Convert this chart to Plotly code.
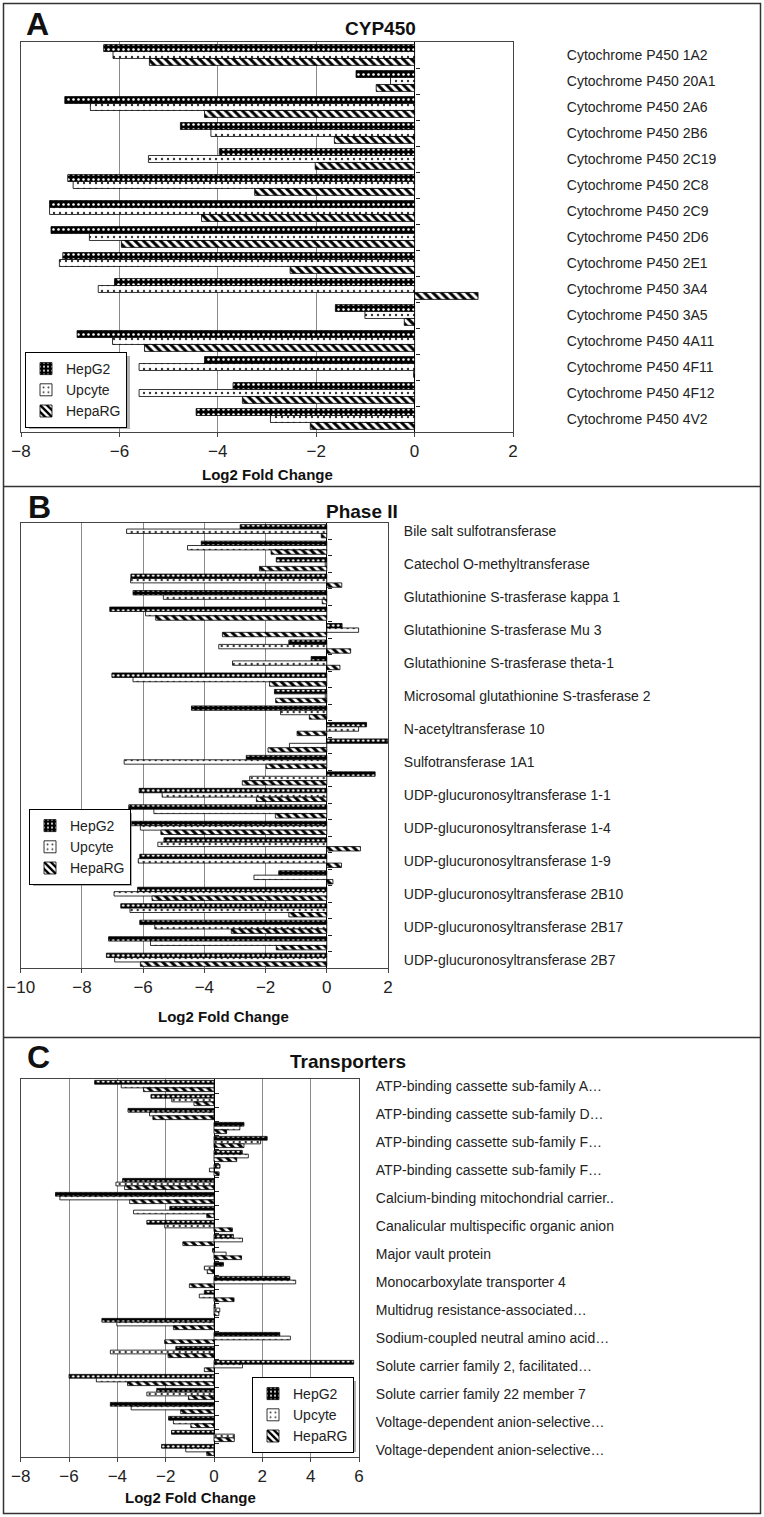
import plotly.graph_objects as go

W, H = 764, 1517
FONT = "Liberation Sans, Arial, sans-serif"

series_names = ["HepG2", "Upcyte", "HepaRG"]

# ---------------- Panel A: CYP450 ----------------
labels_A = ["Cytochrome P450 1A2", "Cytochrome P450 20A1", "Cytochrome P450 2A6",
            "Cytochrome P450 2B6", "Cytochrome P450 2C19", "Cytochrome P450 2C8",
            "Cytochrome P450 2C9", "Cytochrome P450 2D6", "Cytochrome P450 2E1",
            "Cytochrome P450 3A4", "Cytochrome P450 3A5", "Cytochrome P450 4A11",
            "Cytochrome P450 4F11", "Cytochrome P450 4F12", "Cytochrome P450 4V2"]
hepg2_A = [-6.32, -1.19, -7.11, -4.76, -3.97, -7.05, -7.42, -7.39, -7.15, -6.10,
           -1.61, -6.86, -4.27, -3.69, -4.44]
upcyte_A = [-6.13, -0.49, -6.59, -4.14, -5.41, -6.94, -7.42, -6.61, -7.22, -6.43,
            -1.01, -6.14, -5.60, -5.60, -2.93]
heparg_A = [-5.39, -0.78, -4.27, -1.63, -2.02, -3.25, -4.33, -5.96, -2.53, 1.29,
            -0.21, -5.49, -0.02, -3.50, -2.12]

# ---------------- Panel B: Phase II (27 genes, every other labelled) ----------------
labels_B = ["Bile salt sulfotransferase", "Catechol O-methyltransferase",
            "Glutathionine S-trasferase kappa 1", "Glutathionine S-trasferase Mu 3",
            "Glutathionine S-trasferase theta-1", "Microsomal glutathionine S-trasferase 2",
            "N-acetyltransferase 10", "Sulfotransferase 1A1",
            "UDP-glucuronosyltransferase 1-1", "UDP-glucuronosyltransferase 1-4",
            "UDP-glucuronosyltransferase 1-9", "UDP-glucuronosyltransferase 2B10",
            "UDP-glucuronosyltransferase 2B17", "UDP-glucuronosyltransferase 2B7"]
hepg2_B = [-2.83, -4.10, -1.65, -6.40, -6.33, -7.09, 0.50, -1.24, -0.51, -7.02,
           -1.71, -4.42, 1.30, 1.99, -2.63, 1.58, -6.13, -6.47, -6.54, -5.32,
           -6.11, -1.57, -6.18, -6.73, -6.11, -7.13, -7.20]
upcyte_B = [-6.54, -4.55, -0.05, -6.41, -5.34, -5.92, 1.04, -3.53, -3.08, -6.33,
            -0.05, -1.51, 1.04, -1.22, -6.62, -2.52, -5.38, -5.65, -6.09, -5.52,
            -6.16, -2.38, -6.95, -6.43, -5.62, -5.76, -6.93]
heparg_B = [-0.18, -1.82, -2.20, 0.49, -0.15, -5.59, -3.41, 0.78, 0.43, -1.87,
            -1.67, -0.57, -0.97, -1.92, -1.98, -2.76, -2.30, -1.68, -5.42, 1.10,
            0.48, 0.20, -5.71, -1.24, -3.12, -1.65, -6.09]

# ---------------- Panel C: Transporters (27 genes, every other labelled) ----------------
labels_C = ["ATP-binding cassette sub-family A…", "ATP-binding cassette sub-family D…",
            "ATP-binding cassette sub-family F…", "ATP-binding cassette sub-family F…",
            "Calcium-binding mitochondrial carrier..", "Canalicular multispecific organic anion",
            "Major vault protein", "Monocarboxylate transporter 4",
            "Multidrug resistance-associated…", "Sodium-coupled neutral amino acid…",
            "Solute carrier family 2, facilitated…", "Solute carrier family 22 member 7",
            "Voltage-dependent anion-selective…", "Voltage-dependent anion-selective…"]
hepg2_C = [-4.94, -2.61, -3.56, 1.24, 2.20, 1.17, 0.25, -3.78, -6.56, -1.83,
           -2.78, 0.80, -0.06, 0.39, 3.14, -0.40, 0.05, -4.64, 2.72, -1.58,
           5.78, -6.00, -2.37, -4.29, -1.88, -1.76, -2.17]
upcyte_C = [-3.84, -1.75, -2.67, 1.07, 1.93, 1.42, -0.19, -4.06, -6.38, -3.33,
            -2.04, 1.18, 0.50, -0.40, 3.38, -0.61, 0.24, -4.02, 3.16, -4.29,
            1.18, -4.87, -2.78, -3.43, -1.68, 0.84, -1.17]
heparg_C = [-2.92, -0.83, -2.53, 0.52, 1.24, 0.94, 0.21, -3.70, -3.49, -0.30,
            0.76, -1.29, 1.14, -0.28, -1.02, 0.83, 0.20, -1.68, -2.04, -1.90,
            -0.40, -3.58, -1.06, -1.38, -0.96, 0.84, -0.30]


def px(x):
    return x / W


def py(y):
    return 1 - y / H


patterns = [
    dict(shape=".", bgcolor="black", fgcolor="white", size=5, solidity=0.2, fillmode="replace"),
    dict(shape=".", bgcolor="white", fgcolor="#333333", size=6, solidity=0.12, fillmode="replace"),
    dict(shape="\\", bgcolor="white", fgcolor="black", size=6, solidity=0.5, fillmode="replace"),
]

panels = [
    dict(data=[hepg2_A, upcyte_A, heparg_A], labels=labels_A, step=1, xr=[-8, 2],
         box=(21, 513, 42, 432), standoff=50, leg=(25, 352), legsize=(101, 73),
         title="CYP450", tpos=(380, 29), letter="A", lpos=(24, 24), xt=(267, 474)),
    dict(data=[hepg2_B, upcyte_B, heparg_B], labels=labels_B, step=2, xr=[-10, 2],
         box=(20.7, 388, 523, 968), standoff=12, leg=(29, 809), legsize=(99, 73),
         title="Phase II", tpos=(362, 512), letter="B", lpos=(26, 507), xt=(223, 1016)),
    dict(data=[hepg2_C, upcyte_C, heparg_C], labels=labels_C, step=2, xr=[-8, 6],
         box=(20.7, 359, 1079, 1457), standoff=13, leg=(252, 1377), legsize=(100, 71),
         title="Transporters", tpos=(348, 1061), letter="C", lpos=(25, 1057), xt=(190, 1497)),
]

fig = go.Figure()
layout = dict(
    template="none",
    width=W, height=H, margin=dict(l=0, r=0, t=0, b=0, pad=0, autoexpand=False),
    paper_bgcolor="white", plot_bgcolor="white",
    barmode="group", bargap=0.2, bargroupgap=0.0,
    font=dict(family=FONT, color="#222222"),
)
shapes = []
annotations = []

for k, p in enumerate(panels):
    sfx = "" if k == 0 else str(k + 1)
    xa, ya = "x" + sfx, "y" + sfx
    tick_ya = "y" + str(k + 4)
    n = len(p["data"][0])
    ypos = list(range(n))
    for s in range(3):
        fig.add_trace(go.Bar(
            x=p["data"][s], y=ypos, orientation="h", name=series_names[s],
            xaxis=xa, yaxis=ya, legend="legend" + sfx,
            marker=dict(color=patterns[s]["bgcolor"], pattern=patterns[s],
                        line=dict(color="black", width=0.8)),
            hoverinfo="x+name",
        ))
    fig.add_trace(go.Scatter(x=[None], y=[None], xaxis=xa, yaxis=tick_ya,
                             showlegend=False, hoverinfo="skip"))

    x0, x1, y0, y1 = p["box"]
    xmin, xmax = p["xr"]
    layout["xaxis" + sfx] = dict(
        domain=[px(x0), px(x1)], anchor=ya, range=p["xr"], automargin=False,
        dtick=2, showgrid=True, gridcolor="#8a8a8a", gridwidth=1,
        zeroline=True, zerolinecolor="black", zerolinewidth=1.2,
        showline=True, linecolor="#444444", linewidth=1, mirror=True,
        ticks="outside", ticklen=4, tickcolor="#444444",
        tickfont=dict(size=17, color="#222222", family=FONT), fixedrange=True,
    )
    tickvals = ypos[::p["step"]]
    layout["yaxis" + sfx] = dict(
        domain=[py(y1), py(y0)], anchor=xa, side="right", automargin=False,
        range=[n - 0.5, -0.5], tickmode="array", tickvals=tickvals, ticktext=p["labels"],
        showgrid=False, zeroline=False, ticks="",
        showline=True, linecolor="#444444", linewidth=1, mirror=True,
        tickfont=dict(size=14, color="#222222", family=FONT),
        ticklabelstandoff=p["standoff"], fixedrange=True,
    )
    zero_pos = px(x0 + (0 - xmin) / (xmax - xmin) * (x1 - x0))
    layout["yaxis" + str(k + 4)] = dict(
        overlaying=ya, anchor="free", position=zero_pos, side="right", automargin=False,
        range=[n - 0.5, -0.5], tickmode="array",
        tickvals=[i + 0.5 for i in range(n - 1)],
        ticks="outside", ticklen=4, tickcolor="#222222",
        showticklabels=False, showgrid=False, zeroline=False, showline=False,
        fixedrange=True,
    )
    lx, ly = p["leg"]
    lw, lh = p["legsize"]
    layout["legend" + sfx] = dict(
        x=px(lx), y=py(ly), xanchor="left", yanchor="top",
        bgcolor="white", bordercolor="black", borderwidth=1,
        font=dict(size=14, family=FONT, color="#222222"),
        itemwidth=30, tracegroupgap=0, traceorder="normal",
    )
    shapes.append(dict(type="rect", xref="paper", yref="paper",
                       x0=px(lx + 4), x1=px(lx + lw + 4), y0=py(ly + lh + 4), y1=py(ly + 4),
                       fillcolor="#6e6e6e", line=dict(width=0), layer="above", opacity=0.55))
    annotations.append(dict(text="<b>" + p["title"] + "</b>", x=px(p["tpos"][0]), y=py(p["tpos"][1]),
                            xref="paper", yref="paper", showarrow=False,
                            xanchor="center", yanchor="middle",
                            font=dict(size=19, family=FONT, color="#111111")))
    annotations.append(dict(text="<b>" + p["letter"] + "</b>", x=px(p["lpos"][0]), y=py(p["lpos"][1]),
                            xref="paper", yref="paper", showarrow=False,
                            xanchor="left", yanchor="middle",
                            font=dict(size=32, family=FONT, color="#111111")))
    annotations.append(dict(text="<b>Log2 Fold Change</b>", x=px(p["xt"][0]), y=py(p["xt"][1]),
                            xref="paper", yref="paper", showarrow=False,
                            xanchor="center", yanchor="middle",
                            font=dict(size=15, family=FONT, color="#111111")))

shapes.append(dict(type="rect", xref="paper", yref="paper",
                   x0=px(3.5), x1=px(760.5), y0=py(1513.5), y1=py(3.5),
                   line=dict(color="#333333", width=1.5), layer="below"))
for yy in (486.5, 1037.5):
    shapes.append(dict(type="line", xref="paper", yref="paper",
                       x0=px(3.5), x1=px(760.5), y0=py(yy), y1=py(yy),
                       line=dict(color="#333333", width=1.5), layer="below"))

layout["shapes"] = shapes
layout["annotations"] = annotations
fig.update_layout(**layout)
fig.write_html("out.html", config={"displayModeBar": False},
               post_script="document.body.style.margin='0';")
